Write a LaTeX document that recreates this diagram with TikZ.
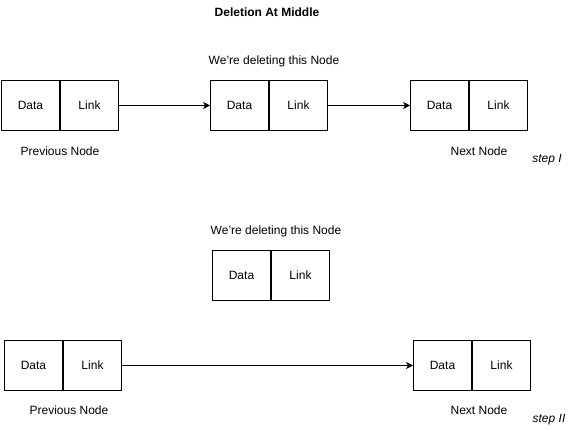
\documentclass[tikz,border=0pt]{standalone}
\usepackage{fontspec}
\setmainfont{Liberation Sans}
\usetikzlibrary{positioning, arrows.meta}

\begin{document}
\begin{tikzpicture}[x = 1pt, y = -1pt,
    cell/.style = {draw, line width = 1pt, minimum width = 58pt, minimum height = 50pt,
                   inner sep = 0pt, font = \fontsize{12}{14}\selectfont},
    caption/.style = {font = \fontsize{12}{14}\selectfont},
    pointer/.style = {line width = 1pt, -{Stealth[length = 7pt, width = 7pt, inset = 2pt]}}]

    \useasboundingbox (0,0) rectangle (576,431);

    \node[font = \fontsize{12}{14}\selectfont\bfseries] (title) at (267,12) {Deletion At Middle};

    % step I
    \node[caption] (del1) at (274,61) {We're deleting this Node};

    \node[cell, anchor = north west] (d1) at (1,80) {Data};
    \node[cell, right = 0pt of d1] (l1) {Link};
    \node[cell, anchor = north west] (d2) at (210,80) {Data};
    \node[cell, right = 0pt of d2] (l2) {Link};
    \node[cell, anchor = north west] (d3) at (410,80) {Data};
    \node[cell, right = 0pt of d3] (l3) {Link};

    \node[caption] (prev1) at (60,151) {Previous Node};
    \node[caption] (next1) at (479,151) {Next Node};
    \node[caption, font = \fontsize{12}{14}\selectfont\itshape] (step1) at (547,160) {step I};

    \draw[pointer] (l1) -- (d2);
    \draw[pointer] (l2) -- (d3);

    % step II
    \node[caption] (del2) at (276,231) {We're deleting this Node};

    \node[cell, anchor = north west] (d4) at (212,250) {Data};
    \node[cell, right = 0pt of d4] (l4) {Link};
    \node[cell, anchor = north west] (d5) at (4,340) {Data};
    \node[cell, right = 0pt of d5] (l5) {Link};
    \node[cell, anchor = north west] (d6) at (413,340) {Data};
    \node[cell, right = 0pt of d6] (l6) {Link};

    \node[caption] (prev2) at (69,410) {Previous Node};
    \node[caption] (next2) at (479,410) {Next Node};
    \node[caption, font = \fontsize{12}{14}\selectfont\itshape] (step2) at (549,420) {step II};

    \draw[pointer] (l5) -- (d6);

\end{tikzpicture}
\end{document}
